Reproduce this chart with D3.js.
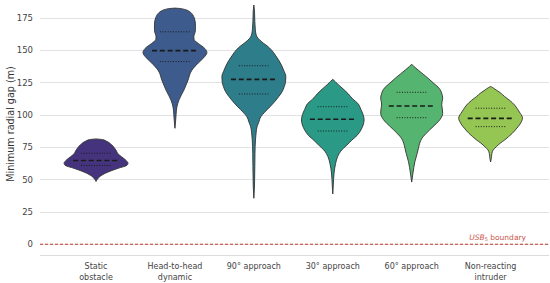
<!DOCTYPE html>
<html>
<head>
<meta charset="utf-8">
<script src="https://cdn.jsdelivr.net/npm/d3@7"></script>
<style>
  html, body { margin: 0; padding: 0; background: #fff; }
  svg { display: block; font-family: "DejaVu Sans", sans-serif; }
</style>
</head>
<body>
<svg id="chart" width="550" height="283"></svg>
<script>
// ---- Data ----
const categories = ["Static\nobstacle", "Head-to-head\ndynamic", "90° approach", "30° approach", "60° approach", "Non-reacting\nintruder"];
const colors = ["#46337e", "#3d5b8c", "#2e7d8a", "#2a9a86", "#55b46f", "#95c653"];
const yTicks = [0, 25, 50, 75, 100, 125, 150, 175];

// violin outline profiles: [value, relative half-width]
const profileStatic = [[48.5,0],[50.5,0.05],[53.5,0.19],[56,0.4],[58.7,0.7],[61,0.97],[62.5,1.0],[64.5,0.95],[67.5,0.8],[70,0.68],[72,0.64],[74.5,0.57],[77,0.48],[79.5,0.33],[80.8,0.2],[81.3,0]];
const profileHeadToHead = [[89.5,0],[95,0.02],[100,0.035],[106,0.06],[111,0.12],[119,0.28],[126,0.4],[134,0.52],[140,0.73],[144,0.9],[148,1.0],[151,0.94],[155,0.73],[158,0.6],[160,0.59],[165,0.64],[170,0.64],[175,0.6],[178,0.53],[180,0.43],[181.3,0.3],[182,0.15],[182.3,0]];
const profile90 = [[35.5,0],[45,0.02],[60,0.03],[70,0.035],[80.5,0.05],[86,0.07],[90.8,0.1],[94,0.15],[98.5,0.22],[102,0.34],[106,0.5],[110,0.65],[114,0.78],[118,0.89],[121.6,0.95],[125,0.99],[129.4,1.0],[134.5,0.93],[138,0.87],[142,0.78],[146,0.67],[150,0.55],[153,0.42],[155,0.31],[157.5,0.19],[160,0.1],[163,0.06],[166,0.045],[172,0.03],[180,0.02],[184.7,0]];
const profile30 = [[38.8,0],[45,0.015],[55,0.04],[62.5,0.09],[67.6,0.15],[70,0.2],[72.8,0.28],[76,0.42],[80.5,0.6],[84,0.76],[88.2,0.88],[92,0.95],[96,0.98],[100,0.95],[104,0.88],[108.8,0.78],[112,0.63],[116.5,0.47],[120,0.32],[123,0.18],[125.5,0.08],[127.3,0]];
const profile60 = [[48,0],[55,0.04],[63.7,0.1],[70,0.17],[74,0.21],[78,0.25],[81.8,0.32],[85,0.43],[88.2,0.56],[91.5,0.7],[94.6,0.83],[98,0.93],[101,0.97],[104.5,0.96],[107.5,0.94],[110,0.95],[112.7,0.97],[116.5,0.94],[120.4,0.86],[124,0.7],[128,0.52],[131.5,0.35],[134.5,0.2],[137,0.08],[139,0]];
const profileNonReacting = [[63.5,0],[66,0.02],[70,0.04],[72.8,0.08],[75.3,0.18],[78,0.3],[80.5,0.44],[83,0.56],[85.7,0.68],[89,0.8],[92,0.9],[95,0.97],[97.2,1.0],[99,0.98],[101,0.93],[104,0.85],[107.5,0.75],[111,0.6],[114,0.44],[117,0.3],[119,0.18],[121,0.06],[121.8,0]];
const profiles = [profileStatic, profileHeadToHead, profile90, profile30, profile60, profileNonReacting];

// quartiles [Q1, median, Q3]
const q1 = [60.8, 141, 116, 87.4, 97.7, 90.8];
const medians = [64.6, 149.5, 127.3, 96.5, 106.7, 97.2];
const q3 = [70.2, 164, 137.8, 106.2, 117.3, 105];

// ---- Layout ----
const svg = d3.select("#chart");
const mLeft = 40, mRight = 549, mTop = 4.6, mBottom = 255;
const x = d3.scaleLinear().domain([-0.71, 5.74]).range([mLeft, mRight]);
const y = d3.scaleLinear().domain([-8.3, 185]).range([mBottom, mTop]);
const halfW = 0.405; // in category units
const medHalf = 0.29, qHalf = 0.19;

// gridlines
svg.append("g").selectAll("line").data(yTicks).join("line")
  .attr("x1", mLeft).attr("x2", mRight)
  .attr("y1", d => Math.round(y(d)) + 0.5).attr("y2", d => Math.round(y(d)) + 0.5)
  .attr("stroke", "#e2e2e2").attr("stroke-width", 1);
// bottom spine
svg.append("line").attr("x1", mLeft).attr("x2", mRight)
  .attr("y1", Math.round(y(-8.3)) + 0.5).attr("y2", Math.round(y(-8.3)) + 0.5)
  .attr("stroke", "#dcdcdc").attr("stroke-width", 1);

// y axis
const yAxis = d3.axisLeft(y).tickValues(yTicks).tickSize(0).tickPadding(7);
const gy = svg.append("g").attr("transform", `translate(${mLeft},0)`).call(yAxis);
gy.select(".domain").remove();
gy.selectAll("text").attr("font-size", 8.5).attr("fill", "#444").attr("font-family", "DejaVu Sans");

svg.append("text")
  .attr("transform", `translate(11,124) rotate(-90)`)
  .attr("text-anchor", "middle").attr("dominant-baseline", "middle")
  .attr("font-size", 9.6).attr("fill", "#333")
  .text("Minimum radial gap (m)");

// x labels
const xl = svg.append("g");
categories.forEach((c, i) => {
  const lines = c.split("\n");
  const t = xl.append("text").attr("text-anchor", "middle")
    .attr("font-size", 8).attr("fill", "#444");
  lines.forEach((ln, j) => {
    t.append("tspan").attr("x", x(i)).attr("y", 269 + j * 10.5).text(ln);
  });
});

// zero line (boundary)
svg.append("line").attr("x1", mLeft).attr("x2", mRight)
  .attr("y1", y(0)).attr("y2", y(0))
  .attr("stroke", "#c0392b").attr("stroke-width", 1).attr("stroke-dasharray", "3,2");
const bl = svg.append("text").attr("x", 526).attr("y", 239.5).attr("text-anchor", "end")
  .attr("font-size", 7.5).attr("fill", "#c0392b").attr("opacity", 0.85);
bl.append("tspan").attr("font-style", "italic").text("USB");
bl.append("tspan").attr("font-size", 5).attr("dy", 1.8).text("5");
bl.append("tspan").attr("dy", -1.8).text(" boundary");

// violins
const g = svg.append("g");
profiles.forEach((p, i) => {
  const area = d3.area()
    .y(d => y(d[0]))
    .x0(d => x(i - d[1] * halfW))
    .x1(d => x(i + d[1] * halfW))
    .curve(d3.curveMonotoneY);
  g.append("path").datum(p).attr("d", area)
    .attr("fill", colors[i]).attr("stroke", "#333").attr("stroke-width", 0.9)
    .attr("stroke-linejoin", "round");
  // quartile lines
  [q1[i], q3[i]].forEach(v => {
    g.append("line").attr("x1", x(i - qHalf)).attr("x2", x(i + qHalf))
      .attr("y1", y(v)).attr("y2", y(v))
      .attr("stroke", "#1a1a1a").attr("stroke-width", 1).attr("stroke-dasharray", "1,1.6");
  });
  g.append("line").attr("x1", x(i - medHalf)).attr("x2", x(i + medHalf))
    .attr("y1", y(medians[i])).attr("y2", y(medians[i]))
    .attr("stroke", "#1a1a1a").attr("stroke-width", 1.6).attr("stroke-dasharray", "5,2.8");
});
</script>
</body>
</html>
